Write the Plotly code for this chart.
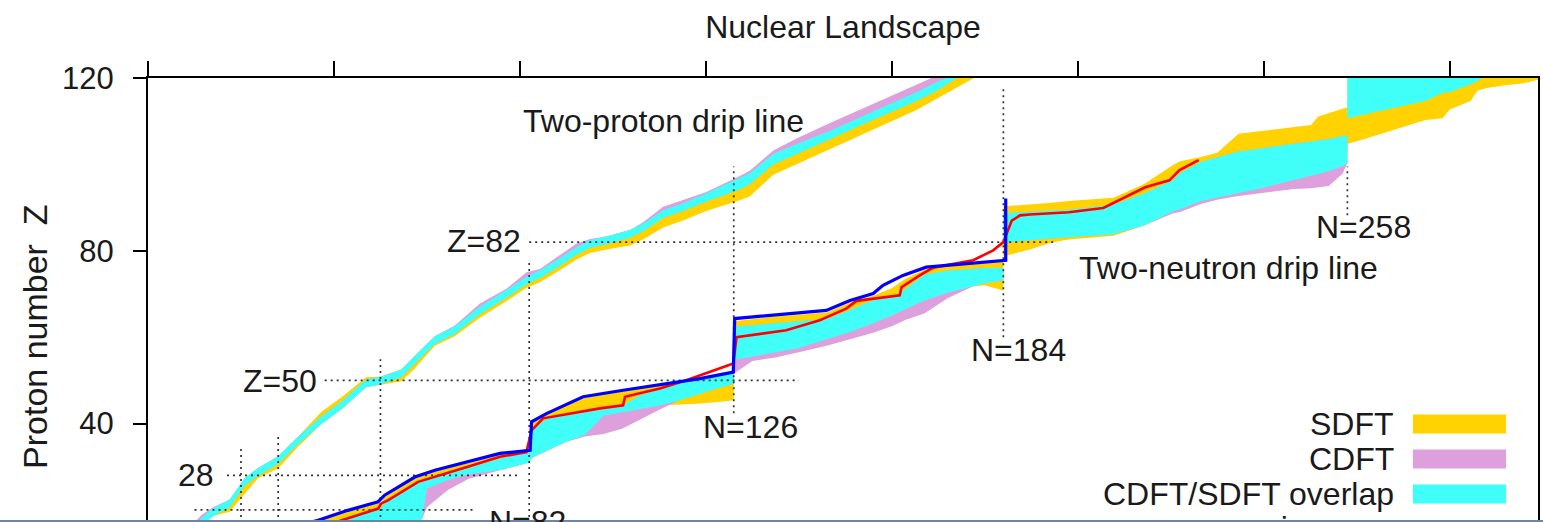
import plotly.graph_objects as go

# ---------------- data ----------------
# Two-proton drip line: neutron number grid and band limits in Z
P_N = [8, 11.5, 14, 17.6, 20.8, 23.7, 28, 32.3, 37.3, 41.6, 46.9, 50.2, 54.5, 57.3, 61.7, 66, 71.4, 77.1, 81.4, 84.3,
       87.9, 92.2, 95.1, 98.6, 103.7, 106.5, 110.8, 115.1, 120.1, 127.3, 129.5, 134.5, 139.5, 146.7, 153.8, 159.6,
       165.3, 169.6, 174, 178]
P_CYAN_HI = [14, 18.2, 20.4, 22.4, 27.4, 29.7, 32.4, 37, 41.7, 45.1, 50.2, 50.9, 52.5, 55.6, 60.2, 62.5, 67.1, 70.9,
             74, 75.5, 77.8, 80.9, 82.5, 83.3, 84.8, 86.3, 89.4, 91, 93.3, 97, 98, 102.4, 104.7, 107.8, 111.3, 114,
             116.7, 119, 121, 123]
P_CYAN_LO = [12.1, 16.3, 18.6, 20.6, 25.6, 27.9, 30.6, 35.2, 39.9, 43.3, 48.4, 49.1, 50.7, 53.8, 58.4, 60.7, 65.3,
             69.1, 72.2, 73.7, 76, 79.1, 80.7, 81.5, 83, 84.5, 87.6, 89.2, 91.4, 94.2, 95.4, 100, 102.4, 105.8, 109.3,
             112, 114.7, 117, 120, 122]
P_GOLD_HI = [14, 18.2, 20.4, 22.4, 27.4, 29.7, 32.4, 37, 42.7, 46.1, 50.7, 50.9, 52.5, 55.6, 60.2, 62.5, 67.1, 70.9,
             74, 75.5, 77.8, 80.9, 82.5, 83.3, 84.8, 86.3, 89.4, 91, 93.3, 97, 98, 102.4, 104.7, 107.8, 111.3, 114,
             116.7, 119, 121, 123]
P_GOLD_LO = [12.1, 16.3, 18.6, 19.6, 23.8, 27.4, 29.6, 34.6, 39.9, 43.3, 48.4, 49.1, 49.8, 52.6, 58, 60.2, 64.5,
             68.3, 71.4, 72.7, 75, 78, 79.5, 80.3, 81.2, 82.6, 85.4, 87, 89.2, 91.7, 92.6, 97.6, 100.2, 103.5, 107,
             109.8, 112.6, 115, 117.8, 120.2]
P_PLUM_HI = [14.8, 18.8, 20.6, 22.4, 27.4, 29.7, 32.4, 37, 41.7, 45.1, 50.2, 50.9, 52.5, 55.6, 60.2, 62.7, 67.8,
             71.2, 75, 75.8, 78.5, 81.7, 82.7, 83.3, 84.8, 86.6, 90.2, 91.8, 93.6, 97.3, 98.6, 103.2, 106, 109.6, 113,
             115.8, 118.5, 120.6, 122.5, 124.5]
P_PLUM_LO = P_CYAN_LO

# Two-neutron drip line, segment N=30..126
A_N = [30, 34, 40, 46, 50, 51, 55, 58, 59, 60, 64.5, 69, 76, 82, 82.5, 86, 90, 94, 98, 102, 106, 110, 114, 118, 122,
       126]
A_CYAN_HI = [14.3, 15.3, 17, 18.9, 20.4, 21.8, 24.3, 26.3, 26.8, 27.2, 28.5, 29.8, 32, 33.2, 38.6, 41.3, 42.2, 42.9,
             43.5, 44.2, 46.6, 48, 49.2, 50.2, 51, 51.8]
A_CYAN_LO = [10, 11, 12.5, 14, 15, 15.5, 16.5, 17, 18, 25, 26.9, 28.2, 29.3, 31, 32, 33.8, 35.8, 37.4, 41.8, 42.6,
             43.4, 44.2, 45.3, 46.6, 48, 49.2]
A_GOLD_HI = [15.5, 16.7, 18.6, 20.6, 21.6, 23, 25.8, 27.5, 27.9, 28.3, 29.8, 30.8, 32.8, 33.5, 40, 42.2, 44.3, 45.9,
             46.9, 47.4, 48.3, 49, 49.8, 50.3, 51.1, 51.8]
A_GOLD_LO = [10, 11, 12.5, 14, 15, 15.5, 16.5, 17, 18, 25, 26.9, 28.2, 29.3, 31, 32, 33.8, 35.8, 37.4, 41.8, 42.6,
             43.4, 44.2, 44.4, 44.6, 44.9, 45.4]
A_PLUM_HI = A_CYAN_HI
A_PLUM_LO = [10, 11, 12.5, 14, 15, 15.5, 16.5, 17, 18, 20.6, 24.6, 27.2, 29.2, 31, 32, 33.8, 35.8, 37, 37.6, 38.8,
             41, 43.2, 45.3, 46.6, 48, 49.2]

# segment N=126..184
B_N = [126, 130, 135, 140, 146, 151, 156, 160, 163, 167, 172, 177.5, 180, 184]
B_GOLD_HI = [63.7, 64.2, 64.8, 65.2, 65.7, 68, 69.6, 71.3, 73.6, 75.6, 76.8, 77.2, 77.3, 77.4]
B_CYAN_HI = [62.4, 62.8, 63.3, 63.7, 64.2, 66.3, 68.6, 69.3, 71.2, 74.5, 75.4, 75.9, 76, 76]
B_CYAN_LO = [54.7, 55.5, 56.5, 57.5, 59.5, 61.2, 63.2, 65, 66.5, 68.5, 70.3, 71.8, 72.5, 73.1]
B_GOLD_LO = [54.7, 55.5, 56.5, 57.5, 59.5, 61.2, 63.2, 65, 66.5, 68.5, 70.3, 71.8, 72, 70.8]
B_PLUM_HI = B_CYAN_HI
B_PLUM_LO = [51.5, 54.5, 55.3, 56.5, 58, 59.5, 61, 62.5, 64, 65.5, 69, 71.8, 72.5, 73.1]

# segment N=184..258
C_N = [184, 190, 194.4, 198, 207.7, 214.4, 220.4, 222, 226.5, 230, 234.6, 240, 246.5, 250.2, 251.7, 254, 257, 258]
C_GOLD_HI = [90.3, 90.7, 91.1, 91.5, 92.3, 95.5, 99.8, 100.7, 101.7, 102.7, 107.1, 107.8, 108.6, 109.1, 111.1,
             111.9, 112.9, 113.2]
C_CYAN_HI = [88.7, 89, 89.2, 89.5, 90.7, 93.3, 96.3, 98, 100.6, 101.6, 103, 103.8, 104.8, 105.3, 105.5, 105.9,
             106.5, 106.7]
C_CYAN_LO = [81.9, 82.5, 82.9, 83.1, 83.8, 85.9, 89.1, 89.6, 91.5, 92.4, 93.4, 94.6, 96.3, 97.4, 97.8, 98.4, 99.6,
             100.3]
C_GOLD_LO = [78.7, 80.4, 81.9, 82.6, 83.5, 85.9, 89.1, 89.6, 91.5, 92.4, 93.4, 94.6, 96.3, 97.4, 97.8, 98.4, 99.6,
             100.3]
C_PLUM_HI = C_CYAN_HI
C_PLUM_LO = [81.9, 82.5, 82.9, 83.1, 83.8, 85.9, 88.6, 89, 90.8, 91.8, 92.7, 93.5, 94.3, 94.5, 94.6, 95, 97.9, 100.3]

# segment N=258..299
D_N = [258, 262, 266, 270, 274.8, 278.5, 280, 284.5, 286, 288, 292, 296, 299]
D_GOLD_HI = [122, 122, 122, 122, 122, 122, 122, 122, 122, 122, 122, 122, 122]
D_GOLD_LO = [104.7, 106, 107.3, 108.6, 110.3, 110.7, 112.7, 114.7, 117.1, 117.7, 118.3, 118.8, 119.6]
D_CYAN_HI = [122, 122, 122, 122, 122, 122, 122, 122, 122, 122, 122, 122, 122]
D_CYAN_LO = [110.7, 111.6, 112.6, 113.6, 114.7, 116.5, 116.7, 118.5, 119.3, 120.5, 121, 121.5, 122]

# single-model drip lines
BLUE_N = [30, 36.6, 43, 49.5, 50.9, 57.4, 61.7, 68.8, 75.7, 82.2, 82.5, 85.7, 93.6, 102.2, 111.5, 118.7, 125.9,
          126.2, 145.9, 151, 156, 158.1, 162.4, 167.4, 184.5, 184.5]
BLUE_Z = [15.8, 17.6, 19.9, 21.9, 23.4, 27.6, 29.2, 31.1, 33.1, 33.8, 40.4, 42.3, 46.2, 47.7, 49.3, 50.4, 51.9,
          64.3, 66.2, 68.5, 70.1, 72, 74.3, 76.2, 77.8, 92.1]
RED_N = [38, 40.2, 49.5, 50.2, 51.6, 58.1, 68.8, 75.7, 81.4, 82.5, 85, 97.2, 102.2, 102.6, 110.1, 115.8, 125.9,
         126.6, 137.3, 144.5, 150.2, 152.4, 161.7, 162.1, 166, 168.9, 177.5, 181.8, 184, 185.8, 187.6, 189.7,
         198.1, 205.5, 214.5, 219.7, 221.9, 226]
RED_Z = [16.5, 17.1, 20.3, 21.5, 22.2, 26.5, 30, 32.3, 33.4, 38.4, 41.2, 43.5, 44.2, 46.2, 48.1, 50, 53.9, 60,
         61.6, 63.9, 66.6, 68.4, 69.7, 71.6, 74.3, 76.1, 77.8, 80.1, 82, 87, 88.2, 88.4, 88.9, 89.9, 94.7, 96.3,
         98.7, 101]

# magic numbers (dotted guide lines)
MAGIC_Z = [20, 28, 50, 82]
MAGIC_Z_NMIN = [10, 17, 38, 82]
MAGIC_Z_NMAX = [70, 80, 140, 195]
MAGIC_N = [20, 28, 50, 82, 126, 184, 258]
MAGIC_N_ZMIN = [10, 10, 10, 10, 42.4, 60, 88.2]
MAGIC_N_ZMAX = [35, 37, 54.9, 77.8, 99.5, 117.4, 99.5]

LEGEND_LABELS = ["SDFT", "CDFT", "CDFT/SDFT overlap", "min - max"]

# ---------------- styling ----------------
GOLD = "#FFD200"
PLUM = "#DDA0DD"
CYAN = "#40FFF8"
FONT = "Liberation Sans, Arial, Helvetica, sans-serif"
TXT = "#1a1a1a"


def polygon(segments):
    xs, ys = [], []
    for n, lo, hi in segments:
        xs += list(n) + list(n)[::-1] + [None]
        ys += list(hi) + list(lo)[::-1] + [None]
    return xs, ys


def band_trace(segments, color):
    xs, ys = polygon(segments)
    return go.Scatter(x=xs, y=ys, mode="lines", fill="toself", fillcolor=color,
                      line=dict(width=0, color=color), hoverinfo="skip", showlegend=False)


fig = go.Figure()

# SDFT bands
fig.add_trace(band_trace([(P_N, P_GOLD_LO, P_GOLD_HI), (A_N, A_GOLD_LO, A_GOLD_HI), (B_N, B_GOLD_LO, B_GOLD_HI),
                          (C_N, C_GOLD_LO, C_GOLD_HI), (D_N, D_GOLD_LO, D_GOLD_HI)], GOLD))
# CDFT bands
fig.add_trace(band_trace([(P_N, P_PLUM_LO, P_PLUM_HI), (A_N, A_PLUM_LO, A_PLUM_HI), (B_N, B_PLUM_LO, B_PLUM_HI),
                          (C_N, C_PLUM_LO, C_PLUM_HI)], PLUM))
# overlap bands
fig.add_trace(band_trace([(P_N, P_CYAN_LO, P_CYAN_HI), (A_N, A_CYAN_LO, A_CYAN_HI), (B_N, B_CYAN_LO, B_CYAN_HI),
                          (C_N, C_CYAN_LO, C_CYAN_HI), (D_N, D_CYAN_LO, D_CYAN_HI)], CYAN))

# dotted magic-number guides
gx, gy = [], []
for z, a, b in zip(MAGIC_Z, MAGIC_Z_NMIN, MAGIC_Z_NMAX):
    gx += [a, b, None]
    gy += [z, z, None]
for n, a, b in zip(MAGIC_N, MAGIC_N_ZMIN, MAGIC_N_ZMAX):
    gx += [n, n, None]
    gy += [a, b, None]
fig.add_trace(go.Scatter(x=gx, y=gy, mode="lines", line=dict(color="#333333", width=1.7, dash="2px,4px"),
                         hoverinfo="skip", showlegend=False))

fig.add_trace(go.Scatter(x=RED_N, y=RED_Z, mode="lines", line=dict(color="#FF0000", width=2.6),
                         hoverinfo="skip", showlegend=False))
fig.add_trace(go.Scatter(x=BLUE_N, y=BLUE_Z, mode="lines", line=dict(color="#0000FF", width=3.2),
                         hoverinfo="skip", showlegend=False))

# text labels
labels = [
    ("Two-proton drip line", 110.8, 110.0, "center"),
    ("Z=82", 80.6, 82.2, "right"),
    ("Z=50", 36.8, 49.8, "right"),
    ("28", 14.6, 28.0, "right"),
    ("N=126", 129.6, 39.1, "center"),
    ("N=184", 187.3, 57.0, "center"),
    ("N=258", 261.5, 85.6, "center"),
    ("Two-neutron drip line", 232.4, 75.9, "center"),
    ("N=82", 81.7, 17.3, "center"),
]
for text, x, y, anchor in labels:
    fig.add_annotation(x=x, y=y, xref="x", yref="y", text=text, showarrow=False, xanchor=anchor,
                       yanchor="middle", font=dict(family=FONT, size=32, color=TXT))

# legend drawn by hand (text left of sample, as in the reference)
leg_y = [0.2207, 0.1419, 0.0631, -0.013]
leg_col = [GOLD, PLUM, CYAN]
for i, lab in enumerate(LEGEND_LABELS):
    fig.add_annotation(x=0.8975, y=leg_y[i], xref="paper", yref="paper", text=lab, showarrow=False,
                       xanchor="right", yanchor="middle", font=dict(family=FONT, size=32, color=TXT))
for i, col in enumerate(leg_col):
    fig.add_shape(type="rect", xref="paper", yref="paper", x0=0.910, x1=0.977,
                  y0=leg_y[i] - 0.0215, y1=leg_y[i] + 0.0215, fillcolor=col, line=dict(width=0))

# y-axis title
fig.add_annotation(x=-0.0813, y=0.419, xref="paper", yref="paper", text="Proton number  Z", textangle=-90,
                   showarrow=False, xanchor="center", yanchor="middle", font=dict(family=FONT, size=34, color=TXT))

# thin frame line at the bottom of the picture
fig.add_shape(type="line", xref="paper", yref="paper", x0=-0.11, x1=1.01, y0=0.002, y1=0.002,
              line=dict(color="#6a87a8", width=2))

fig.update_layout(
    width=1543, height=522,
    margin=dict(l=148, r=5, t=78, b=0),
    paper_bgcolor="white", plot_bgcolor="white",
    showlegend=False,
    title=dict(text="Nuclear Landscape", x=0.5, xref="paper", xanchor="center", y=1 - 27 / 522,
               yanchor="middle", font=dict(family=FONT, size=32, color=TXT)),
    xaxis=dict(range=[0, 299], side="top", showline=True, linecolor="black", linewidth=2, ticks="outside",
               ticklen=15, tickwidth=2, tickcolor="black", tick0=0, dtick=40, showticklabels=False,
               showgrid=False, zeroline=False),
    yaxis=dict(range=[17.2, 120], showline=True, linecolor="black", linewidth=2, mirror=True, ticks="outside",
               ticklen=13, tickwidth=2, tickcolor="black", tickvals=[40, 80, 120], ticklabelstandoff=13,
               tickfont=dict(family=FONT, size=31, color=TXT), showgrid=False, zeroline=False),
)

fig.write_html("out.html")
